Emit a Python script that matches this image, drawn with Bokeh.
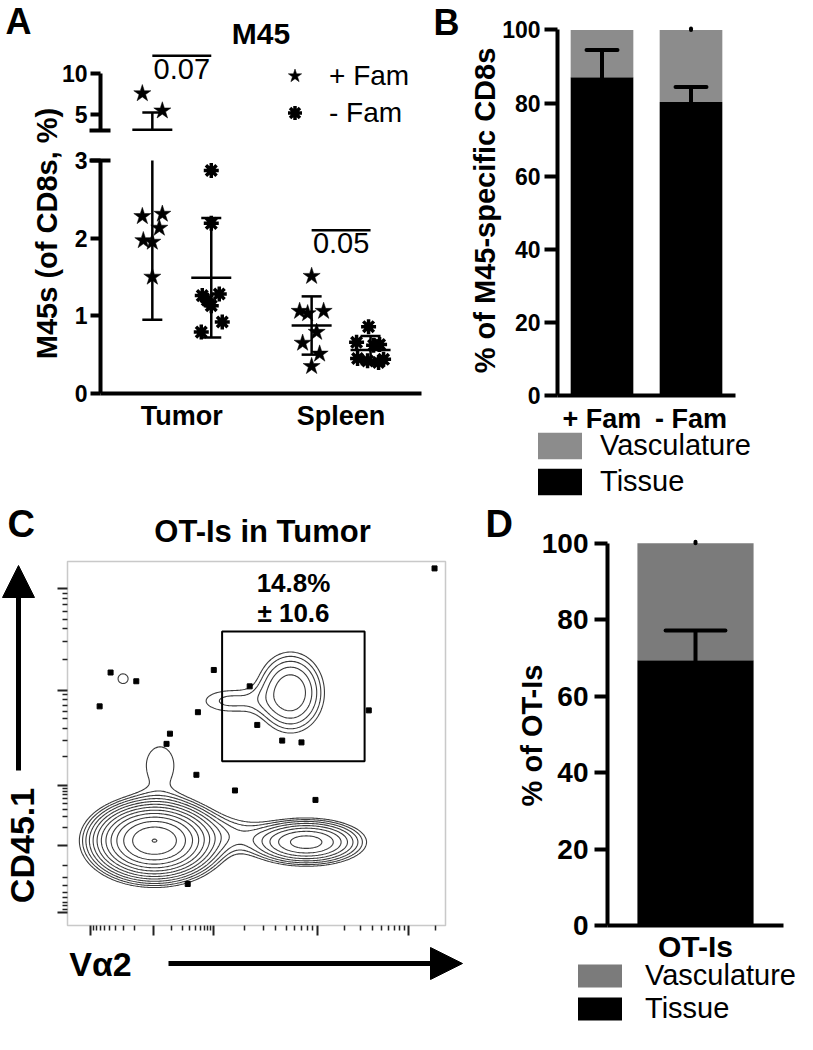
import math
import numpy as np
from bokeh.plotting import figure
from bokeh.layouts import row, column
from bokeh.models import (Range1d, LinearAxis, FixedTicker, Label, Legend, LegendItem,
                          Arrow, NormalHead, BoxAnnotation)
from bokeh.embed import file_html
from bokeh.resources import INLINE

FONT = "Liberation Sans"

# ---------------- data: panel A (M45 frequency, broken axis) ----------------
a_categories = ["Tumor", "Spleen"]
a_series = ["+ Fam", "- Fam"]
tumor_plus_fam = [7.5, 5.4, 2.28, 2.31, 2.13, 1.97, 1.95, 1.50]
tumor_minus_fam = [2.87, 2.19, 1.26, 1.28, 1.13, 0.92, 0.79, 1.20]
spleen_plus_fam = [1.51, 1.06, 1.03, 1.06, 0.79, 0.65, 0.51, 0.35]
spleen_minus_fam = [0.86, 0.66, 0.63, 0.62, 0.45, 0.42, 0.40, 0.44]
a_means = [3.07, 1.49, 0.875, 0.56]
a_sds = [2.12, 0.77, 0.375, 0.18]
a_pvalues = ["0.07", "0.05"]
a_pvalue_bar_y = [12.1, 2.1]
a_yticks_lower = [0, 1, 2, 3]
a_yticks_upper = [5, 10]
# horizontal scatter of the points inside each group (pixels)
a_jitter_px = [[-10, 10, -10, 10, 7, -9, 0, 0],
               [0, 0, -9, 8, 0, 11, -10, -4],
               [0, -12, -4, 12, 5, -9, 8, 0],
               [-2, -14, 9, 3, -13, -3, 8, 13]]

# ---------------- data: panel B ----------------
b_categories = ["+ Fam", "- Fam"]
b_tissue = [87.1, 80.3]
b_tissue_sd = [7.4, 4.1]
b_vasc_sd = [0.0, 0.4]
b_yticks = [0, 20, 40, 60, 80, 100]

# ---------------- data: panel C (flow plot) ----------------
c_outlier_x = [971, 114, 182, 85, 387, 345, 482, 271, 262, 502, 568, 619, 797, 341, 443, 656, 318]
c_outlier_y = [981, 695, 671, 602, 702, 586, 657, 527, 499, 551, 508, 503, 591, 414, 371, 345, 114]
c_pop_cx = [230, 632, 590, 430, 430, 245, 147]
c_pop_cy = [233, 229, 640, 617, 250, 440, 678]
c_pop_sx = [71, 72, 50, 70, 70, 50, 22]
c_pop_sy = [46, 30, 62, 30, 35, 70, 22]
c_pop_w = [1.0, 0.23, 0.1, 0.03, 0.03, 0.026, 0.024]
c_gate_x = [409, 786]
c_gate_y = [451, 808]
c_gate_text = ["14.8%", "\u00b1 10.6"]
c_x_major = [61, 228, 386, 661, 902]
c_y_major = [36, 220, 385, 646, 926]

# ---------------- data: panel D ----------------
d_categories = ["OT-Is"]
d_tissue = [69.4]
d_tissue_sd = [7.8]
d_vasc_sd = [0.4]
d_yticks = [0, 20, 40, 60, 80, 100]

GRAY_B = "#8c8c8c"
GRAY_D = "#7b7b7b"

TOP_H = 499          # height of the upper row of panels
BOT_H = 1048 - TOP_H  # height of the lower row


class Panel:
    """Maps page pixels of the reference layout onto a figure whose frame fills its canvas."""

    def __init__(self, origin, size, box, xdata, ydata):
        self.ox, self.oy = origin
        self.W, self.H = size
        self.L, self.R, self.T, self.B = box
        self.x0, self.x1 = xdata
        self.y0, self.y1 = ydata

    def x(self, rx):
        return self.x0 + (rx - self.L) * (self.x1 - self.x0) / (self.R - self.L)

    def y(self, ry):
        return self.y0 + (self.B - ry) * (self.y1 - self.y0) / (self.B - self.T)

    def figure(self):
        p = figure(width=self.W, height=self.H, title=None,
                   x_range=Range1d(self.x(self.ox), self.x(self.ox + self.W)),
                   y_range=Range1d(self.y(self.oy + self.H), self.y(self.oy)),
                   x_axis_location=None, y_axis_location=None, min_border=0,
                   output_backend="svg", toolbar_location=None)
        p.grid.grid_line_color = None
        p.outline_line_color = None
        p.background_fill_color = "white"
        p.border_fill_color = "white"
        return p


def lab(p, text, x, y, size, bold=True, align="left", baseline="middle", angle=0.0, **kw):
    p.add_layout(Label(x=x, y=y, text=text, text_font=FONT, text_font_size=size,
                       text_font_style="bold" if bold else "normal", text_align=align,
                       text_baseline=baseline, angle=angle, text_color="black", **kw))


def style_axis(ax, size, standoff, tick_out, tick_w=4, line_w=4):
    ax.axis_line_width = line_w
    ax.axis_line_color = "black"
    ax.major_tick_line_width = tick_w
    ax.major_tick_out = tick_out
    ax.major_tick_in = 0
    ax.minor_tick_line_color = None
    ax.major_label_text_font = FONT
    ax.major_label_text_font_size = size
    ax.major_label_text_font_style = "bold"
    ax.major_label_text_color = "black"
    ax.major_label_standoff = standoff
    if tick_out == 0:
        ax.major_tick_line_color = None


def legend(items, location, glyph_w, glyph_h, spacing, standoff, size):
    return Legend(items=items, location=location, padding=0, spacing=spacing, margin=0,
                  glyph_width=glyph_w, glyph_height=glyph_h, label_standoff=standoff,
                  label_text_font=FONT, label_text_font_size=size, label_text_color="black",
                  background_fill_alpha=0, border_line_color=None)


# =========================== Panel A ===========================
A_PPX = 159.3
A_X0 = 1 - 81.3 / A_PPX
LOW_PPU, UP_PPU, GAP_PX, BRK = 77.7, 8.2, 30.0, 3.0
pa = Panel((0, 0), (424, TOP_H), (100, 421, 45, 393),
           (A_X0, A_X0 + 321 / A_PPX), (0, 348 / LOW_PPU))
A_X1 = pa.x1
pA = pa.figure()


def upper_y(ry):
    return BRK + ((393 - ry) - (BRK * LOW_PPU + GAP_PX)) / UP_PPU


pA.extra_y_ranges = {"upper": Range1d(upper_y(pa.oy + pa.H), upper_y(pa.oy))}

OFF = 0.185
a_group_x = [1 - OFF, 1 + OFF, 2 - OFF, 2 + OFF]
a_groups = [tumor_plus_fam, tumor_minus_fam, spleen_plus_fam, spleen_minus_fam]
a_markers = ["star", "asterisk", "star", "asterisk"]

pts = {m: {"low": ([], []), "up": ([], [])} for m in ("star", "asterisk")}
for vals, xc, mk, jit in zip(a_groups, a_group_x, a_markers, a_jitter_px):
    for v, j in zip(vals, jit):
        seg = "up" if v > BRK else "low"
        pts[mk][seg][0].append(xc + j / A_PPX)
        pts[mk][seg][1].append(v)

star_low = pA.scatter(pts["star"]["low"][0], pts["star"]["low"][1], marker="star", size=18,
                      fill_color="black", line_color="black", line_width=0.5)
pA.scatter(pts["star"]["up"][0], pts["star"]["up"][1], marker="star", size=18,
           fill_color="black", line_color="black", line_width=0.5, y_range_name="upper")
ast_low = pA.scatter(pts["asterisk"]["low"][0], pts["asterisk"]["low"][1], marker="asterisk",
                     size=15, line_color="black", line_width=3.5)

# error bars (mean +/- SD), split at the axis break
MEAN_HW = 20 / A_PPX
CAP_HW = 10 / A_PPX
lv = {"x": [], "y0": [], "y1": []}
uv = {"x": [], "y0": [], "y1": []}
lh = {"x0": [], "x1": [], "y": []}
uh = {"x0": [], "x1": [], "y": []}
for xc, m, s in zip(a_group_x, a_means, a_sds):
    lo, hi = m - s, m + s
    if lo < BRK:
        lv["x"].append(xc); lv["y0"].append(lo); lv["y1"].append(min(hi, BRK))
    if hi > BRK:
        uv["x"].append(xc); uv["y0"].append(max(lo, BRK)); uv["y1"].append(hi)
    for yv, hw in ((m, MEAN_HW), (lo, CAP_HW), (hi, CAP_HW)):
        d = uh if yv > BRK else lh
        d["x0"].append(xc - hw); d["x1"].append(xc + hw); d["y"].append(yv)

pA.segment(lv["x"], lv["y0"], lv["x"], lv["y1"], line_width=2.5, line_color="black")
pA.segment(uv["x"], uv["y0"], uv["x"], uv["y1"], line_width=2.5, line_color="black",
           y_range_name="upper")
pA.segment(lh["x0"], lh["y"], lh["x1"], lh["y"], line_width=2.5, line_color="black")
pA.segment(uh["x0"], uh["y"], uh["x1"], uh["y"], line_width=2.5, line_color="black",
           y_range_name="upper")

# comparison bars with p-values
for i, (pv, yb) in enumerate(zip(a_pvalues, a_pvalue_bar_y)):
    x0, x1 = a_group_x[2 * i], a_group_x[2 * i + 1]
    rng = "upper" if yb > BRK else "default"
    ppu = UP_PPU if yb > BRK else LOW_PPU
    pA.segment([x0], [yb], [x1], [yb], line_width=2.5, line_color="black", y_range_name=rng)
    lab(pA, pv, (x0 + x1) / 2, yb - 3 / ppu, "29px", bold=False, align="center",
        baseline="top", y_range_name=rng)

# broken y axis: two real axes placed at the left edge of the data box
ax_low = LinearAxis(bounds=(0, BRK), ticker=FixedTicker(ticks=a_yticks_lower), fixed_location=A_X0)
ax_up = LinearAxis(bounds=(BRK, max(a_yticks_upper)), y_range_name="upper",
                   ticker=FixedTicker(ticks=a_yticks_upper), fixed_location=A_X0)
for ax in (ax_low, ax_up):
    style_axis(ax, "23px", 3, 10)
    pA.add_layout(ax, "left")
for rng in ("default", "upper"):
    cap = LinearAxis(ticker=FixedTicker(ticks=[BRK]), y_range_name=rng, fixed_location=A_X0,
                     axis_line_color=None, major_tick_line_width=4, major_tick_out=11,
                     major_tick_in=10, minor_tick_line_color=None,
                     major_label_overrides={3: ""})
    pA.add_layout(cap, "left")

xA = LinearAxis(bounds=(A_X0, A_X1), ticker=FixedTicker(ticks=[1, 2]), fixed_location=0,
                major_label_overrides={1: a_categories[0], 2: a_categories[1]})
style_axis(xA, "27px", 7, 0)
pA.add_layout(xA, "below")

legA = legend([LegendItem(label=a_series[0], renderers=[star_low]),
               LegendItem(label=a_series[1], renderers=[ast_low])],
              (277, TOP_H - 130), 35, 35, 2, 17, "28px")
pA.add_layout(legA)

lab(pA, "A", pa.x(5), pa.y(21), "36px")
lab(pA, "M45", (A_X0 + A_X1) / 2, pa.y(32.5), "30px", align="center")
lab(pA, "M45s (of CD8s, %)", pa.x(46), pa.y(233), "29px", align="center", angle=math.pi / 2)

# =========================== Panel B ===========================
pb = Panel((424, 0), (388, TOP_H), (557, 735, 24, 395), (0.5, 0.5 + len(b_categories)), (0, 101.5))
pB = pb.figure()
b_x = [i + 1 for i in range(len(b_categories))]
b_vasc = [100 - t for t in b_tissue]
rB = pB.vbar_stack(["Tissue", "Vasculature"], x="x", width=0.704,
                   fill_color=["black", GRAY_B], line_color=None,
                   source=dict(x=b_x, Tissue=b_tissue, Vasculature=b_vasc))


def error_bars(p, xs, tops, sds, vasc_sds, cap_hw):
    p.segment(xs, [t - s for t, s in zip(tops, sds)], xs, [t + s for t, s in zip(tops, sds)],
              line_width=4, line_color="black")
    p.segment([x - cap_hw for x in xs], [t + s for t, s in zip(tops, sds)],
              [x + cap_hw for x in xs], [t + s for t, s in zip(tops, sds)],
              line_width=4, line_color="black", line_cap="round")
    vv = [(x, s) for x, s in zip(xs, vasc_sds) if s > 0]
    p.segment([x for x, s in vv], [100] * len(vv), [x for x, s in vv], [100 + s for x, s in vv],
              line_width=4, line_color="black", line_cap="round")


def bar_axes(p, panel, cats, xs, ticks, tick_size, xlabel_size, tick_standoff, x_standoff):
    y = LinearAxis(bounds=(0, 100), ticker=FixedTicker(ticks=ticks), fixed_location=panel.x0)
    style_axis(y, tick_size, tick_standoff, 13)
    p.add_layout(y, "left")
    x = LinearAxis(bounds=(panel.x0, panel.x1), ticker=FixedTicker(ticks=xs), fixed_location=0,
                   major_label_overrides={xv: c for xv, c in zip(xs, cats)})
    style_axis(x, xlabel_size, x_standoff, 0)
    p.add_layout(x, "below")


error_bars(pB, b_x, b_tissue, b_tissue_sd, b_vasc_sd, 0.174)
bar_axes(pB, pb, b_categories, b_x, b_yticks, "23px", "27px", 4, 8)
legB = legend([LegendItem(label="Vasculature", renderers=[rB[1]]),
               LegendItem(label="Tissue", renderers=[rB[0]])],
              (108, 1), 55, 33, 3, 13, "29px")
pB.add_layout(legB)
lab(pB, "B", pb.x(433), pb.y(21.5), "36px")
lab(pB, "% of M45-specific CD8s", pb.x(484), pb.y(210), "29px", align="center",
    angle=math.pi / 2)

# =========================== Panel C ===========================
pc = Panel((0, TOP_H), (470, BOT_H), (67, 445, 561, 925), (0, 1000), (0, 1000))
pC = pc.figure()
pC.add_layout(BoxAnnotation(left=0, right=1000, bottom=0, top=1000, fill_alpha=0,
                            line_color="#4d4d4d", line_width=1.5))

gx = np.linspace(0, 1000, 301)
gy = np.linspace(0, 1000, 301)
GX, GY = np.meshgrid(gx, gy)
Z = np.zeros_like(GX)
for cx, cy, sx, sy, w in zip(c_pop_cx, c_pop_cy, c_pop_sx, c_pop_sy, c_pop_w):
    Z += w * np.exp(-((GX - cx) ** 2) / (2 * sx ** 2) - ((GY - cy) ** 2) / (2 * sy ** 2))
levels = list(0.02 * 1.385 ** np.arange(13))
pC.contour(GX, GY, Z, levels, line_color="#3c3c3c", line_width=1.1)
pC.scatter(c_outlier_x, c_outlier_y, marker="square", size=5, fill_color="black", line_color="black")
pC.quad(left=[c_gate_x[0]], right=[c_gate_x[1]], bottom=[c_gate_y[0]], top=[c_gate_y[1]],
        fill_color=None, line_color="black", line_width=2)


def log_minors(start, step, lo=0.0, hi=1000.0, sign=1):
    out = []
    for k in range(2, 10):
        v = start + sign * math.log10(k) * step
        if lo <= v <= hi:
            out.append(v)
    return out


c_x_minor = (log_minors(c_x_major[2], c_x_major[3] - c_x_major[2])
             + log_minors(c_x_major[3], c_x_major[4] - c_x_major[3])
             + log_minors(c_x_major[4], c_x_major[4] - c_x_major[3])
             + log_minors(c_x_major[1], c_x_major[2] - c_x_major[1])
             + log_minors(c_x_major[1], c_x_major[1] - c_x_major[0], sign=-1))
c_y_minor = (log_minors(c_y_major[2], c_y_major[3] - c_y_major[2])
             + log_minors(c_y_major[3], c_y_major[4] - c_y_major[3])
             + log_minors(c_y_major[1], c_y_major[2] - c_y_major[1])
             + log_minors(c_y_major[1], c_y_major[1] - c_y_major[0], sign=-1))
for side, maj, mnr in (("below", c_x_major, c_x_minor), ("left", c_y_major, c_y_minor)):
    ax = LinearAxis(ticker=FixedTicker(ticks=maj, minor_ticks=mnr), bounds=(0, 1000),
                    fixed_location=0, axis_line_color=None,
                    major_tick_out=10, major_tick_in=0, minor_tick_out=5, minor_tick_in=0,
                    major_tick_line_width=2, minor_tick_line_width=1.5,
                    major_tick_line_color="#222222", minor_tick_line_color="#222222",
                    major_label_overrides={t: "" for t in maj})
    pC.add_layout(ax, side)

head = dict(size=32, fill_color="black", line_color="black")
pC.add_layout(Arrow(end=NormalHead(**head), x_start=pc.x(18), y_start=pc.y(770),
                    x_end=pc.x(18), y_end=pc.y(565), line_width=5, line_color="black"))
pC.add_layout(Arrow(end=NormalHead(**head), x_start=pc.x(168), y_start=pc.y(963),
                    x_end=pc.x(462), y_end=pc.y(963), line_width=5, line_color="black"))
lab(pC, "C", pc.x(7), pc.y(523), "38px")
lab(pC, "OT-Is in Tumor", pc.x(262), pc.y(531), "31px", align="center")
lab(pC, "CD45.1", pc.x(21), pc.y(845), "34px", align="center", angle=math.pi / 2)
lab(pC, "V\u03b12", pc.x(100), pc.y(963), "34px", align="center")
lab(pC, c_gate_text[0], pc.x(293), pc.y(582), "26px", align="center")
lab(pC, c_gate_text[1], pc.x(293), pc.y(612), "26px", align="center")

# =========================== Panel D ===========================
pd_ = Panel((470, TOP_H), (342, BOT_H), (607, 783, 537, 925), (0.5, 0.5 + len(d_categories)),
            (0, 101.5))
pD = pd_.figure()
d_x = [i + 1 for i in range(len(d_categories))]
d_vasc = [100 - t for t in d_tissue]
rD = pD.vbar_stack(["Tissue", "Vasculature"], x="x", width=0.66,
                   fill_color=["black", GRAY_D], line_color=None,
                   source=dict(x=d_x, Tissue=d_tissue, Vasculature=d_vasc))
error_bars(pD, d_x, d_tissue, d_tissue_sd, d_vasc_sd, 0.17)
bar_axes(pD, pd_, d_categories, d_x, d_yticks, "28px", "30px", 6, 4)
legD = legend([LegendItem(label="Vasculature", renderers=[rD[1]]),
               LegendItem(label="Tissue", renderers=[rD[0]])],
              (102, 23), 55, 29, -7, 18, "29px")
pD.add_layout(legD)
lab(pD, "D", pd_.x(485), pd_.y(523), "38px")
lab(pD, "% of OT-Is", pd_.x(531), pd_.y(735), "29px", align="center", angle=math.pi / 2)

layout = column(row(pA, pB), row(pC, pD))
open("out.html", "w").write(file_html(layout, INLINE, "Figure"))
